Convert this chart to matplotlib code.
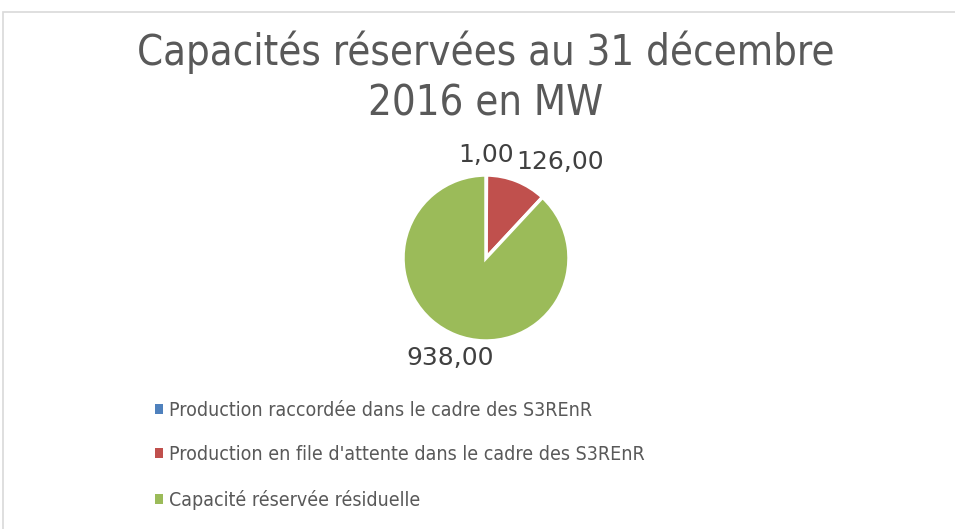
import matplotlib
matplotlib.use('Agg')
import matplotlib.pyplot as plt
from matplotlib.patches import Rectangle
import numpy as np

# data
categories = ['Production raccordée dans le cadre des S3REnR',
              "Production en file d'attente dans le cadre des S3REnR",
              'Capacité réservée résiduelle']
values = [1.00, 126.00, 938.00]
colors = ['#4F81BD', '#C0504D', '#9BBB59']
title = 'Capacités réservées au 31 décembre\n2016 en MW'

txt = '#595959'
plt.rcParams['font.family'] = ['DejaVu Sans']
W, H = 955, 529
fig = plt.figure(figsize=(W / 100, H / 100), dpi=100)

# light frame (top and left edges visible)
fig.add_artist(Rectangle((3 / W, -0.05), 1.1, 1 - 12 / H + 0.05, fill=False,
                         edgecolor='#D9D9D9', lw=1.2, transform=fig.transFigure))

fig.text(486 / W, 1 - 31 / H, title, ha='center', va='top', fontsize=30,
         color=txt, fontstretch='condensed', linespacing=1.25)

cx, cy, r = 486, 258, 83
ax = fig.add_axes([(cx - r) / W, (H - cy - r) / H, 2 * r / W, 2 * r / H])
wedges, _ = ax.pie(values, colors=colors, startangle=90, counterclock=False,
                   wedgeprops=dict(edgecolor='white', linewidth=2.5))
ax.set_xlim(-1, 1)
ax.set_ylim(-1, 1)
ax.set_aspect('auto')

# data labels outside the wedges
nudge = [0, -16, 2]
dist = [1.24, 1.46, 1.28]
for w, v, n, d in zip(wedges, values, nudge, dist):
    a = np.deg2rad((w.theta1 + w.theta2) / 2 + n)
    ax.text(d * np.cos(a), d * np.sin(a), f'{v:.2f}'.replace('.', ','),
            ha='center', va='center', fontsize=18, color='#404040',
            clip_on=False)

leg = fig.legend(wedges, categories, loc='upper left',
                 bbox_to_anchor=(155 / W, 1 - 401 / H), frameon=False,
                 prop=dict(size=14, stretch='condensed'), labelcolor=txt,
                 handlelength=0.4, handleheight=0.4, handletextpad=0.3,
                 labelspacing=1.3, borderpad=0, borderaxespad=0)
for h in leg.legend_handles:
    h.set_edgecolor('none')

fig.savefig('out.png', dpi=100)
